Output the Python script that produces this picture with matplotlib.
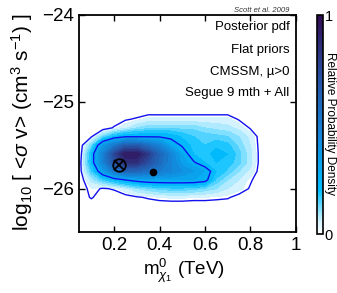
import numpy as np
import matplotlib
matplotlib.use("Agg")
import matplotlib.pyplot as plt
from matplotlib.colors import LinearSegmentedColormap, Normalize
from matplotlib.cm import ScalarMappable

plt.rcParams['font.family'] = ['Liberation Sans', 'DejaVu Sans']
plt.rcParams['mathtext.fontset'] = 'custom'
plt.rcParams['mathtext.rm'] = 'Liberation Sans'
plt.rcParams['mathtext.it'] = 'Liberation Sans:italic'

# grid of the posterior
mass = [0.05, 0.10, 0.15, 0.20, 0.25, 0.30, 0.35, 0.40, 0.45,
        0.50, 0.55, 0.60, 0.65, 0.70, 0.75, 0.80, 0.85, 0.90]
logsv = [-26.3, -26.2, -26.1, -26.0, -25.9, -25.8, -25.7,
         -25.6, -25.5, -25.4, -25.3, -25.2, -25.1, -25.0]
pdf = [
    [0, 0, 0, 0, 0, 0, 0, 0, 0, 0, 0, 0, 0, 0, 0, 0, 0, 0],
    [0, 0, 0, 0, 0, 0, 0, 0, 0, 0, 0, 0, 0, 0, 0, 0, 0, 0],
    [0, .03, 0, 0, .01, .02, .03, .04, .045, .045, .04, .04, .035, .03, .01, 0, 0, 0],
    [0, .04, .02, .03, .06, .10, .12, .14, .15, .15, .14, .12, .10, .07, .05, .02, 0, 0],
    [0, .08, .15, .20, .25, .28, .30, .30, .30, .30, .30, .28, .15, .10, .07, .03, 0, 0],
    [.01, .15, .32, .50, .60, .60, .55, .50, .45, .40, .35, .30, .20, .15, .10, .06, 0, 0],
    [.01, .20, .45, .70, .85, .85, .72, .58, .46, .33, .26, .20, .20, .18, .14, .08, 0, 0],
    [0, .20, .45, .75, .95, .95, .80, .60, .45, .30, .20, .18, .22, .20, .14, .08, 0, 0],
    [0, .12, .35, .50, .65, .65, .55, .45, .30, .24, .18, .16, .19, .17, .12, .07, 0, 0],
    [0, .02, .12, .20, .24, .24, .24, .24, .23, .19, .16, .15, .14, .13, .10, .06, 0, 0],
    [0, 0, 0, .03, .06, .10, .12, .12, .12, .12, .12, .10, .09, .08, .06, .02, 0, 0],
    [0, 0, 0, 0, .02, .03, .05, .05, .05, .05, .05, .05, .05, .05, .02, 0, 0, 0],
    [0, 0, 0, 0, 0, 0, 0, 0, 0, 0, 0, 0, 0, 0, 0, 0, 0, 0],
    [0, 0, 0, 0, 0, 0, 0, 0, 0, 0, 0, 0, 0, 0, 0, 0, 0, 0],
]
cred_levels = [0.025, 0.25]
best_fit = (0.22, -25.73)
post_mean = (0.37, -25.81)
labels = ["Posterior pdf", "Flat priors", "CMSSM, \u00b5>0", "Segue 9 mth + All"]

cmap = LinearSegmentedColormap.from_list("pdf", [
    (0.0, (1.0, 1.0, 1.0)),
    (0.06, (0.82, 0.95, 1.0)),
    (0.2, (0.0, 0.75, 1.0)),
    (0.45, (0.08, 0.52, 0.85)),
    (0.7, (0.15, 0.33, 0.65)),
    (1.0, (0.2, 0.05, 0.33)),
])

W, H = 337.0, 293.0
fig = plt.figure(figsize=(3.37, 2.93), dpi=100)
ax = fig.add_axes([0.234, 0.208, 0.644, 0.741])

X, Y = np.meshgrid(mass, logsv)
Z = np.array(pdf)
fill_levels = [0.04, 0.07, 0.1, 0.13, 0.16, 0.2] + list(np.linspace(0.25, 1.0, 16))
ax.contourf(X, Y, Z, levels=fill_levels, cmap=cmap, vmin=0, vmax=1, extend='max')
ax.contour(X, Y, Z, levels=cred_levels, colors='#1010ee', linewidths=1.0)

ax.plot(*best_fit, 'o', ms=9, mfc='none', mec='k', mew=1.3)
ax.plot(*best_fit, 'x', ms=6.5, mec='k', mew=1.3)
ax.plot(*post_mean, 'o', ms=4.5, color='k')

ax.set_xlim(0.045, 1.0)
ax.set_ylim(-26.5, -24)
ax.set_xticks([0.2, 0.4, 0.6, 0.8, 1.0])
ax.set_xticklabels(["0.2", "0.4", "0.6", "0.8", "1"])
ax.set_yticks([-26, -25, -24])
ax.tick_params(direction='in', top=True, right=True, labelsize=13.5, length=4, width=1)
for s in ax.spines.values():
    s.set_linewidth(1.3)

fig.text(143 / W, 1 - 275 / H, r"m$^{0}_{\chi_1}$ (TeV)", fontsize=13.5, va='baseline', ha='left')
fig.text(22 / W, 1 - 122.5 / H, r"log$_{10}$ [ <$\sigma$ v> (cm$^3$ s$^{-1}$) ]", fontsize=15,
         rotation=90, ha='center', va='center')

ypos = [0.945, 0.839, 0.737, 0.641]
for t, yp in zip(labels, ypos):
    ax.text(0.97, yp, t, transform=ax.transAxes, ha='right', va='center', fontsize=9.5)
ax.text(0.97, 1.005, "Scott et al. 2009", transform=ax.transAxes, ha='right', va='bottom',
        fontsize=5.5, style='italic', color='#333333')

cax = fig.add_axes([0.941, 0.201, 0.018, 0.747])
cb = fig.colorbar(ScalarMappable(norm=Normalize(0, 1), cmap=cmap), cax=cax, ticks=[0, 1])
cb.ax.tick_params(length=0, labelsize=10.5, pad=1)
cb.outline.set_linewidth(1.2)
fig.text(0.978, 0.58, "Relative Probability Density", rotation=270, ha='center', va='center',
         fontsize=8.5)

fig.savefig("out.png", dpi=100)
